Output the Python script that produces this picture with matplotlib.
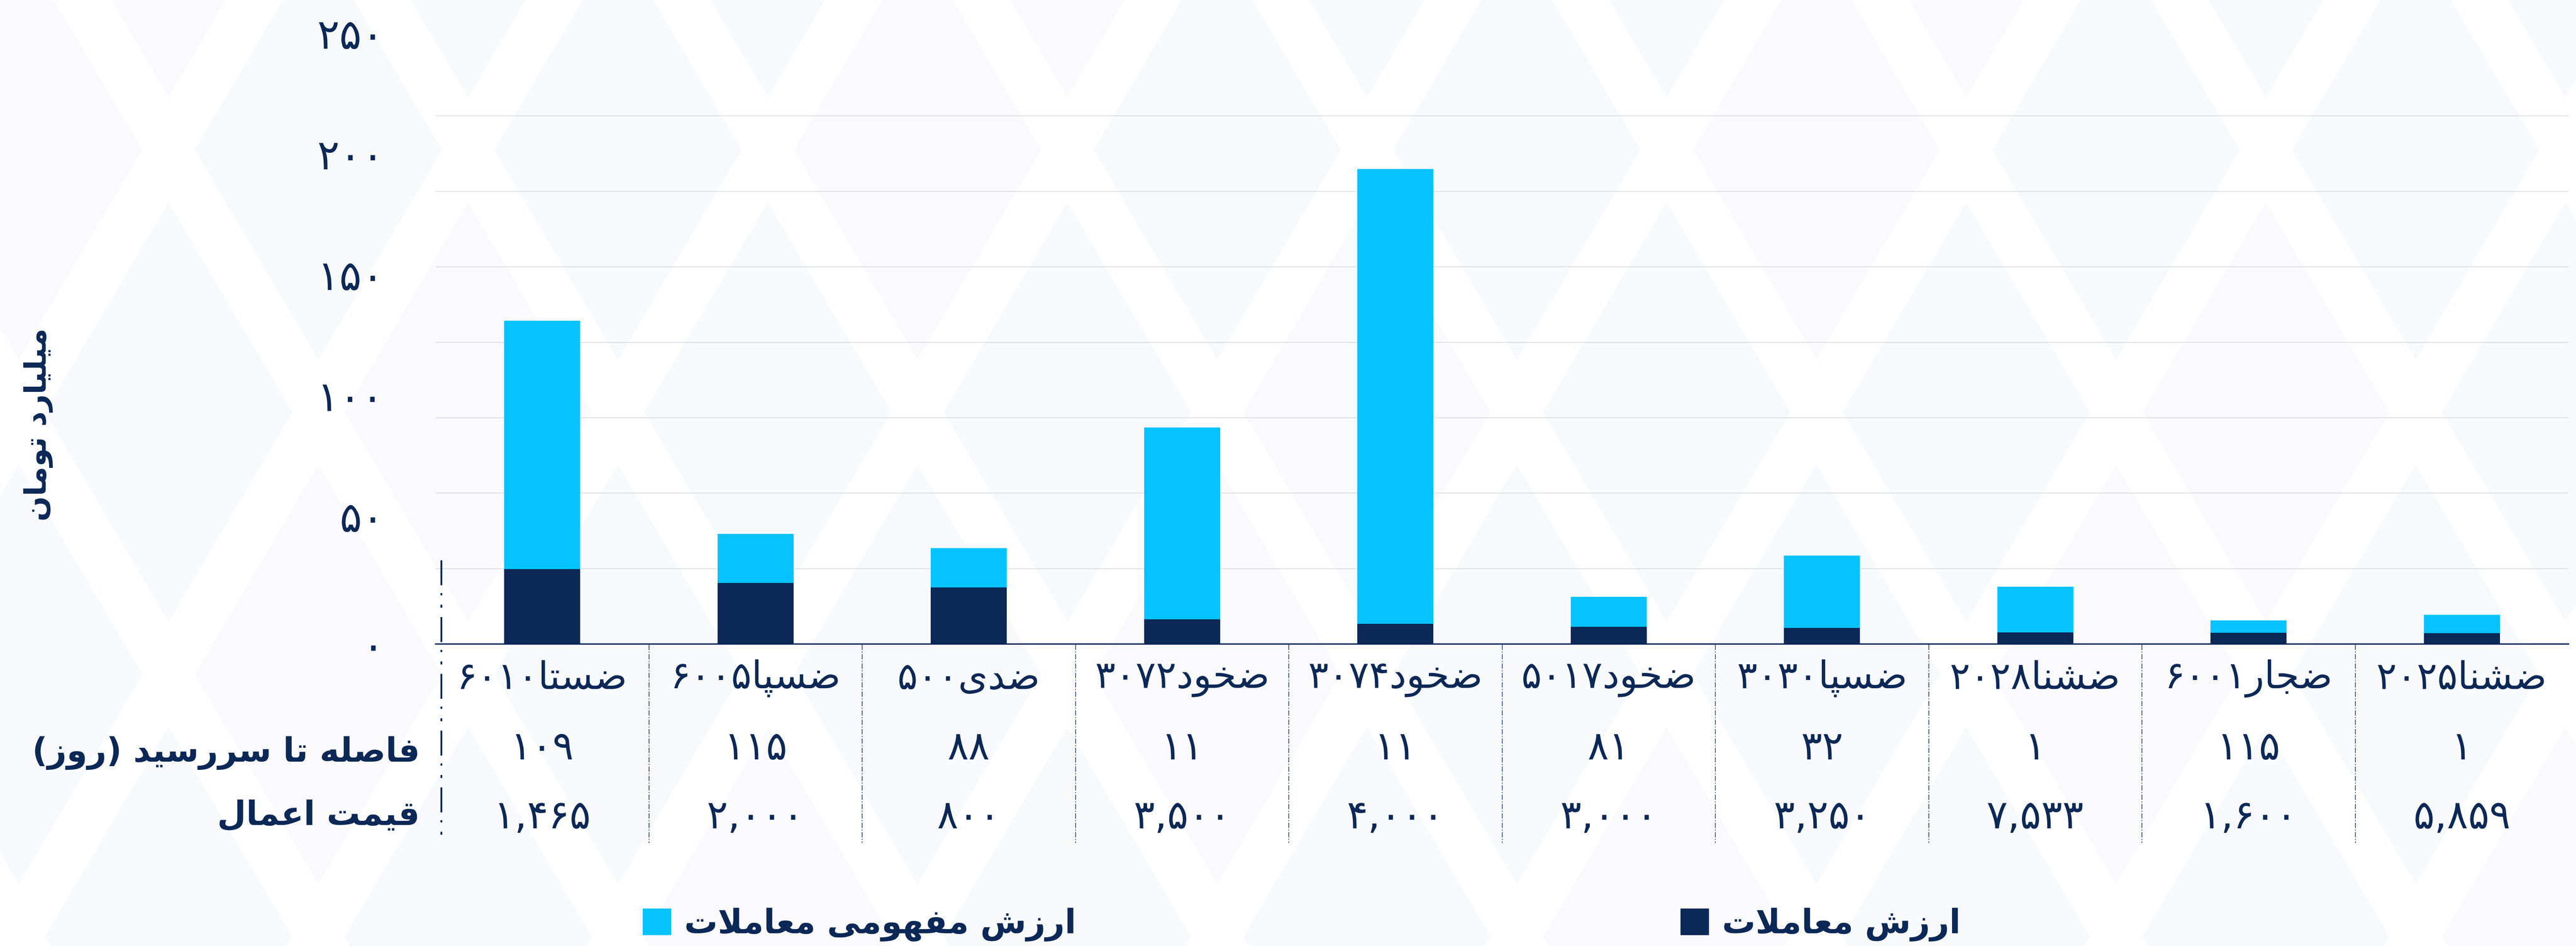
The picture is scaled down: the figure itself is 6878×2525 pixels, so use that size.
import re
import numpy as np
import matplotlib
matplotlib.use("Agg")
import matplotlib.pyplot as plt
from matplotlib.patches import Patch, Polygon
from matplotlib.lines import Line2D
from matplotlib.transforms import blended_transform_factory, ScaledTranslation

plt.rcParams['font.family'] = ['DejaVu Sans']
plt.rcParams['lines.scale_dashes'] = False

# ---- data ----
categories = ["ضستا۶۰۱۰", "ضسپا۶۰۰۵", "ضدی۵۰۰", "ضخود۳۰۷۲", "ضخود۳۰۷۴",
              "ضخود۵۰۱۷", "ضسپا۳۰۳۰", "ضشنا۲۰۲۸", "ضجار۶۰۰۱", "ضشنا۲۰۲۵"]
notional_value = [134.0, 45.7, 39.8, 89.7, 196.7, 19.5, 36.6, 23.7, 9.8, 12.1]
trade_value = [31.1, 25.3, 23.4, 10.2, 8.4, 7.1, 6.7, 4.8, 4.7, 4.5]
days_to_maturity = [109, 115, 88, 11, 11, 81, 32, 1, 115, 1]
strike_price = [1465, 2000, 800, 3500, 4000, 3000, 3250, 7533, 1600, 5859]
y_ticks = [0, 50, 100, 150, 200, 250]

y_title = "میلیارد تومان"
row_titles = ["فاصله تا سررسید (روز)", "قیمت اعمال"]
legend_labels = ["ارزش مفهومی معاملات", "ارزش معاملات"]

NAVY = "#0b2856"
CYAN = "#06c3fe"
GRID = "#dcdde2"

# ---- minimal persian shaping (matplotlib has no text shaping) ----
FORMS = {  # isolated, final, initial, medial
    'ا': ('\uFE8D', '\uFE8E', None, None),
    'د': ('\uFEA9', '\uFEAA', None, None),
    'ر': ('\uFEAD', '\uFEAE', None, None),
    'ز': ('\uFEAF', '\uFEB0', None, None),
    'و': ('\uFEED', '\uFEEE', None, None),
    'لا': ('\uFEFB', '\uFEFC', None, None),
    'ت': ('\uFE95', '\uFE96', '\uFE97', '\uFE98'),
    'ج': ('\uFE9D', '\uFE9E', '\uFE9F', '\uFEA0'),
    'خ': ('\uFEA5', '\uFEA6', '\uFEA7', '\uFEA8'),
    'س': ('\uFEB1', '\uFEB2', '\uFEB3', '\uFEB4'),
    'ش': ('\uFEB5', '\uFEB6', '\uFEB7', '\uFEB8'),
    'ص': ('\uFEB9', '\uFEBA', '\uFEBB', '\uFEBC'),
    'ض': ('\uFEBD', '\uFEBE', '\uFEBF', '\uFEC0'),
    'ع': ('\uFEC9', '\uFECA', '\uFECB', '\uFECC'),
    'ف': ('\uFED1', '\uFED2', '\uFED3', '\uFED4'),
    'ق': ('\uFED5', '\uFED6', '\uFED7', '\uFED8'),
    'ل': ('\uFEDD', '\uFEDE', '\uFEDF', '\uFEE0'),
    'م': ('\uFEE1', '\uFEE2', '\uFEE3', '\uFEE4'),
    'ن': ('\uFEE5', '\uFEE6', '\uFEE7', '\uFEE8'),
    'ه': ('\uFEE9', '\uFEEA', '\uFEEB', '\uFEEC'),
    'ی': ('\uFBFC', '\uFBFD', '\uFBFE', '\uFBFF'),
    'پ': ('\uFB56', '\uFB57', '\uFB58', '\uFB59'),
}
MIRROR = str.maketrans("()", ")(")
FA_DIGITS = str.maketrans("0123456789", "۰۱۲۳۴۵۶۷۸۹")


def shape(s):
    chars, i = [], 0
    while i < len(s):
        if s[i] == 'ل' and i + 1 < len(s) and s[i + 1] == 'ا':
            chars.append('لا')
            i += 2
        else:
            chars.append(s[i])
            i += 1
    out = []
    for i, c in enumerate(chars):
        f = FORMS.get(c)
        if f is None:
            out.append(c)
            continue
        prev = FORMS.get(chars[i - 1]) if i > 0 else None
        nxt = FORMS.get(chars[i + 1]) if i + 1 < len(chars) else None
        j_prev = prev is not None and prev[2] is not None
        j_next = f[2] is not None and nxt is not None
        out.append(f[(1 if j_prev else 0) + (2 if j_next else 0)])
    return ''.join(out)


def fa(s):
    s = shape(str(s).translate(FA_DIGITS))
    runs = re.findall(r'[۰-۹,]+|[^۰-۹,]+', s)
    vis = []
    for r in reversed(runs):
        if r[0] in "۰۱۲۳۴۵۶۷۸۹,":
            vis.append(r)
        else:
            vis.append(r[::-1].translate(MIRROR))
    return ''.join(vis)


# ---- figure ----
W, H = 6878, 2525
fig = plt.figure(figsize=(W / 100, H / 100), dpi=100, facecolor="white")

# very faint diamond watermark in the background
bg = fig.add_axes([0, 0, 1, 1], zorder=-10)
bg.set_xlim(0, W)
bg.set_ylim(H, 0)
bg.axis("off")
tints = ["#f8f9fc", "#faf9fc", "#f7f9fb"]
k = 0
for row, cy in enumerate(range(-300, H + 700, 700)):
    off = 0 if row % 2 == 0 else 400
    for cx in range(-350 + off, W + 500, 800):
        d = Polygon([(cx, cy - 560), (cx + 330, cy), (cx, cy + 560), (cx - 330, cy)],
                    closed=True, facecolor=tints[k % 3], edgecolor="none")
        bg.add_patch(d)
        k += 1

ax_left, ax_right = 1163 / W, 6858 / W
ax_bot, ax_top = 1 - 1719 / H, 1 - 108 / H
ax = fig.add_axes([ax_left, ax_bot, ax_right - ax_left, ax_top - ax_bot])
ax.patch.set_alpha(0)

x = np.arange(len(categories))
bw = 0.357
ax.bar(x, notional_value, width=bw, color=CYAN, zorder=3)
ax.bar(x, trade_value, width=bw, color=NAVY, zorder=4)

ax.set_xlim(-0.5, len(categories) - 0.5)
ax.set_ylim(0, 250)

# grid lines: 8 bands between 0 and 250
ax.set_yticks(np.linspace(0, 250, 9), minor=True)
ax.grid(axis="y", which="minor", color=GRID, linewidth=1.6, zorder=0)
ax.tick_params(axis="y", which="minor", length=0)

ax.set_yticks(y_ticks)
ax.set_yticklabels([fa(v) for v in y_ticks], fontsize=80, color=NAVY)
ax.tick_params(axis="y", which="major", length=0, pad=99)
lift = ScaledTranslation(0, 0.2, fig.dpi_scale_trans)
for lab in ax.get_yticklabels()[1:]:
    lab.set_transform(lab.get_transform() + lift)

ax.set_xticks(x)
ax.set_xticklabels([fa(c) for c in categories], fontsize=73, color=NAVY, va="center")
ax.tick_params(axis="x", length=0, pad=66)

for s in ["top", "right", "left"]:
    ax.spines[s].set_visible(False)
ax.spines["bottom"].set_color(NAVY)
ax.spines["bottom"].set_linewidth(2.6)
ax.spines["bottom"].set_zorder(5)

# table rows under the categories
tr = blended_transform_factory(ax.transData, fig.transFigure)
row_y = [1 - 1998 / H, 1 - 2182 / H]
for xi, d, p in zip(x, days_to_maturity, strike_price):
    ax.text(xi, row_y[0], fa(d), transform=tr, ha="center", va="center",
            fontsize=76, color=NAVY)
    ax.text(xi, row_y[1], fa(f"{p:,}"), transform=tr, ha="center", va="center",
            fontsize=76, color=NAVY)

for t, yy in zip(row_titles, [1 - 2010 / H, 1 - 2178 / H]):
    fig.text(1121 / W, yy, fa(t), ha="right", va="center", fontsize=64,
             fontweight="bold", color=NAVY)

# column separators
for xi in x[:-1] + 0.5:
    ax.add_line(Line2D([xi, xi], [1 - 1721 / H, 1 - 2250 / H], transform=tr,
                       color=NAVY, linewidth=1.2, linestyle=(0, (10, 3, 2, 3)),
                       clip_on=False))
tr_left = blended_transform_factory(ax.transAxes, fig.transFigure)
ax.add_line(Line2D([0.0026, 0.0026], [1 - 1495 / H, 1 - 2245 / H], transform=tr_left,
                   color=NAVY, linewidth=3.4,
                   linestyle=(0, (48, 15, 4.3, 18, 5.8, 18)), clip_on=False))

# axis title
fig.text(103 / W, 1 - 1133 / H, fa(y_title), rotation=90, ha="center", va="center",
         fontsize=57, fontweight="bold", color=NAVY)

# legend (two entries placed apart)
for lab, col, xpos in [(legend_labels[0], CYAN, 1716), (legend_labels[1], NAVY, 4487)]:
    fig.legend(handles=[Patch(facecolor=col, edgecolor="none")], labels=[fa(lab)],
               loc="center left", bbox_to_anchor=(xpos / W, 1 - 2468 / H),
               frameon=False, borderpad=0, borderaxespad=0,
               handlelength=0.85, handleheight=0.85, handletextpad=0.4,
               prop={"size": 64, "weight": "bold"}, labelcolor=NAVY)

fig.savefig("out.png", dpi=100, facecolor="white")
